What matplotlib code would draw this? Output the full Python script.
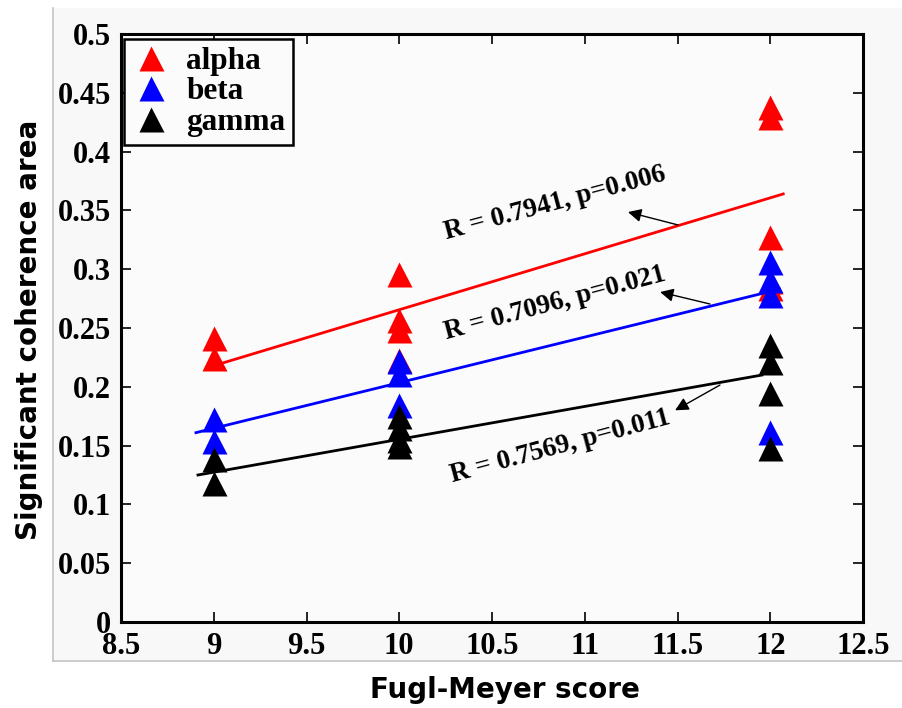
import matplotlib
matplotlib.use("Agg")
import matplotlib.pyplot as plt
from matplotlib.patches import Rectangle
from matplotlib.lines import Line2D

# ---- data ----
alpha_x = [9, 9, 10, 10, 10, 10, 12, 12, 12, 12, 12]
alpha_y = [0.2415, 0.2245, 0.296, 0.257, 0.248, 0.223, 0.438, 0.429, 0.327, 0.290, 0.284]
beta_x = [9, 9, 10, 10, 10, 12, 12, 12, 12]
beta_y = [0.1726, 0.154, 0.222, 0.211, 0.1845, 0.306, 0.291, 0.278, 0.1615]
gamma_x = [9, 9, 10, 10, 10, 10, 12, 12, 12, 12]
gamma_y = [0.139, 0.118, 0.175, 0.165, 0.155, 0.150, 0.2355, 0.221, 0.195, 0.148]

# fitted regression lines (end points)
fit_alpha_x = [8.98, 12.07]
fit_alpha_y = [0.217, 0.364]
fit_beta_x = [8.904, 12.05]
fit_beta_y = [0.161, 0.283]
fit_gamma_x = [8.915, 11.955]
fit_gamma_y = [0.125, 0.210]

labels = ["alpha", "beta", "gamma"]
annot_texts = ["R = 0.7941, p=0.006", "R = 0.7096, p=0.021", "R = 0.7569, p=0.011"]
annot_text_xy = [(10.84, 0.356), (10.84, 0.271), (10.867, 0.149)]
annot_head_xy = [(11.233, 0.3486), (11.406, 0.2806), (11.487, 0.180)]
annot_tail_xy = [(11.503, 0.3376), (11.675, 0.2704), (11.729, 0.2015)]

xticks = [8.5, 9, 9.5, 10, 10.5, 11, 11.5, 12, 12.5]
xticklabels = ["8.5", "9", "9.5", "10", "10.5", "11", "11.5", "12", "12.5"]
yticks = [0, 0.05, 0.1, 0.15, 0.2, 0.25, 0.3, 0.35, 0.4, 0.45, 0.5]
yticklabels = ["0", "0.05", "0.1", "0.15", "0.2", "0.25", "0.3", "0.35", "0.4", "0.45", "0.5"]

W, H = 903, 708
fig = plt.figure(figsize=(W / 100, H / 100), dpi=100, facecolor="white")

# light grey screenshot panel with border lines
fig.patches.append(Rectangle((53 / W, 1 - 661 / H), 1 - 53 / W, (661 - 8) / H,
                             transform=fig.transFigure, facecolor="#f8f8f8",
                             edgecolor="none", zorder=-2))
fig.lines.append(Line2D([53 / W, 1], [1 - 661 / H, 1 - 661 / H], transform=fig.transFigure,
                        color="#c4c4c4", lw=1.2, zorder=-1))
fig.lines.append(Line2D([53 / W, 53 / W], [1 - 661 / H, 1 - 8 / H], transform=fig.transFigure,
                        color="#c4c4c4", lw=1.2, zorder=-1))

ax = fig.add_axes([121 / W, 1 - 622 / H, 742 / W, 588 / H])
ax.set_zorder(2)
ax.set_facecolor("#fbfbfb")

ms = 18
ax.plot(alpha_x, alpha_y, "^", color="#ff0000", ms=ms, mec="none", label=labels[0], zorder=3)
ax.plot(beta_x, beta_y, "^", color="#0000ff", ms=ms, mec="none", label=labels[1], zorder=3)
ax.plot(gamma_x, gamma_y, "^", color="black", ms=ms, mec="none", label=labels[2], zorder=3)

ax.plot(fit_alpha_x, fit_alpha_y, "-", color="#ff0000", lw=2, zorder=4)
ax.plot(fit_beta_x, fit_beta_y, "-", color="#0000ff", lw=2, zorder=4)
ax.plot(fit_gamma_x, fit_gamma_y, "-", color="black", lw=2, zorder=4)

serif = ["Liberation Serif", "DejaVu Serif"]
for txt, txy, hxy, sxy in zip(annot_texts, annot_text_xy, annot_head_xy, annot_tail_xy):
    ax.text(txy[0], txy[1], txt, rotation=15, rotation_mode="anchor", ha="center", va="center",
            fontsize=19.5, fontweight="bold", family=serif, zorder=5)
    ax.annotate("", xy=hxy, xytext=sxy,
                arrowprops=dict(arrowstyle="-|>", lw=1.0, color="black", mutation_scale=20,
                                shrinkA=0, shrinkB=0), zorder=5)

ax.set_xlim(8.5, 12.5)
ax.set_ylim(0, 0.5)
ax.set_xticks(xticks)
ax.set_xticklabels(xticklabels)
ax.set_yticks(yticks)
ax.set_yticklabels(yticklabels)
ax.tick_params(direction="in", length=7, width=1.2, top=True, right=True, labelsize=22, pad=7)
for lab in ax.get_xticklabels() + ax.get_yticklabels():
    lab.set_family(serif)
    lab.set_fontweight("bold")
for sp in ax.spines.values():
    sp.set_linewidth(2.2)
    sp.set_color("black")

leg = ax.legend(loc="upper left", bbox_to_anchor=(0.004, 0.9915), borderaxespad=0,
                frameon=True, fancybox=False, edgecolor="black", framealpha=1,
                prop={"family": serif, "weight": "bold", "size": 22.5},
                handlelength=1.2, handletextpad=0.55, labelspacing=0.05,
                borderpad=0.25, markerscale=1.0)
leg.get_frame().set_linewidth(1.8)
leg.get_frame().set_facecolor("#fbfbfb")

sans = ["DejaVu Sans"]
fig.text(505 / W, 1 - 690 / H, "Fugl-Meyer score", ha="center", va="center",
         fontsize=20, fontweight="bold", family=sans)
fig.text(29 / W, 1 - 330 / H, "Significant coherence area", ha="center", va="center",
         rotation=90, fontsize=20, fontweight="bold", family=sans)

fig.savefig("out.png", dpi=100, facecolor="white")
